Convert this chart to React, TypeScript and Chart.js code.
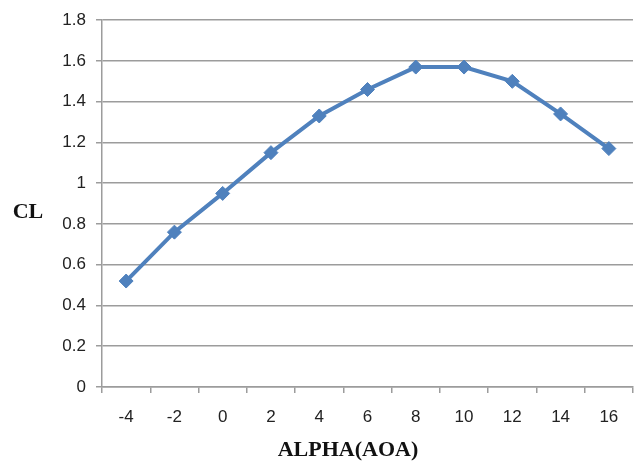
import React, { useEffect, useRef } from "react";
import { Chart, registerables } from "chart.js";

Chart.register(...registerables);

const categories = ["-4", "-2", "0", "2", "4", "6", "8", "10", "12", "14", "16"];
const clValues = [0.52, 0.76, 0.95, 1.15, 1.33, 1.46, 1.57, 1.57, 1.5, 1.34, 1.17];
const yMin = 0;
const yMax = 1.8;
const yStep = 0.2;
const yTitle = "CL";
const xTitle = "ALPHA(AOA)";

const titlePlugin = {
  id: "customTitles",
  afterDraw(chart: any) {
    const ctx = chart.ctx;
    ctx.save();
    ctx.fillStyle = "#111";
    ctx.font = "bold 22px 'Liberation Serif', 'Times New Roman', serif";
    ctx.textAlign = "center";
    ctx.textBaseline = "middle";
    ctx.fillText(yTitle, 28, 212);
    ctx.fillText(xTitle, 348, 450);
    ctx.restore();
  },
};

export default function App() {
  const ref = useRef<HTMLCanvasElement>(null);
  useEffect(() => {
    document.body.style.margin = "0";
    const canvas = ref.current!;
    const grid = "#9c9c9c";
    const chart = new Chart(canvas, {
      type: "line",
      data: {
        labels: categories,
        datasets: [
          {
            data: clValues,
            borderColor: "#4F81BD",
            backgroundColor: "#4F81BD",
            borderWidth: 4,
            pointStyle: "rectRot",
            pointRadius: 7,
            pointBorderWidth: 1,
            pointBorderColor: "#4F81BD",
            pointBackgroundColor: "#4F81BD",
            tension: 0,
          },
        ],
      },
      options: {
        responsive: false,
        animation: false,
        devicePixelRatio: 1,
        layout: { autoPadding: false, padding: { top: 16, right: 4, left: 0, bottom: 0 } },
        plugins: { legend: { display: false }, tooltip: { enabled: false } },
        scales: {
          x: {
            type: "category",
            offset: true,
            grid: {
              offset: true,
              drawOnChartArea: false,
              drawTicks: true,
              tickLength: 6,
              color: grid,
              lineWidth: 1.5,
            },
            border: { display: true, color: grid, width: 1.5 },
            ticks: {
              color: "#222",
              padding: 14,
              font: { family: "'Liberation Sans', Arial, sans-serif", size: 17 },
              maxRotation: 0,
            },
            afterFit(scale: any) {
              scale.height = 79;
            },
          },
          y: {
            min: yMin,
            max: yMax,
            ticks: {
              stepSize: yStep,
              color: "#222",
              padding: 10,
              font: { family: "'Liberation Sans', Arial, sans-serif", size: 17 },
              callback: (v: any) => String(+Number(v).toFixed(1)),
            },
            grid: { color: grid, lineWidth: 1.5, tickLength: 6 },
            border: { display: true, color: grid, width: 1.5 },
            afterFit(scale: any) {
              scale.width = 102;
            },
          },
        },
      },
      plugins: [titlePlugin],
    } as any);
    return () => chart.destroy();
  }, []);
  return <canvas ref={ref} width={637} height={466} style={{ display: "block" }} />;
}
